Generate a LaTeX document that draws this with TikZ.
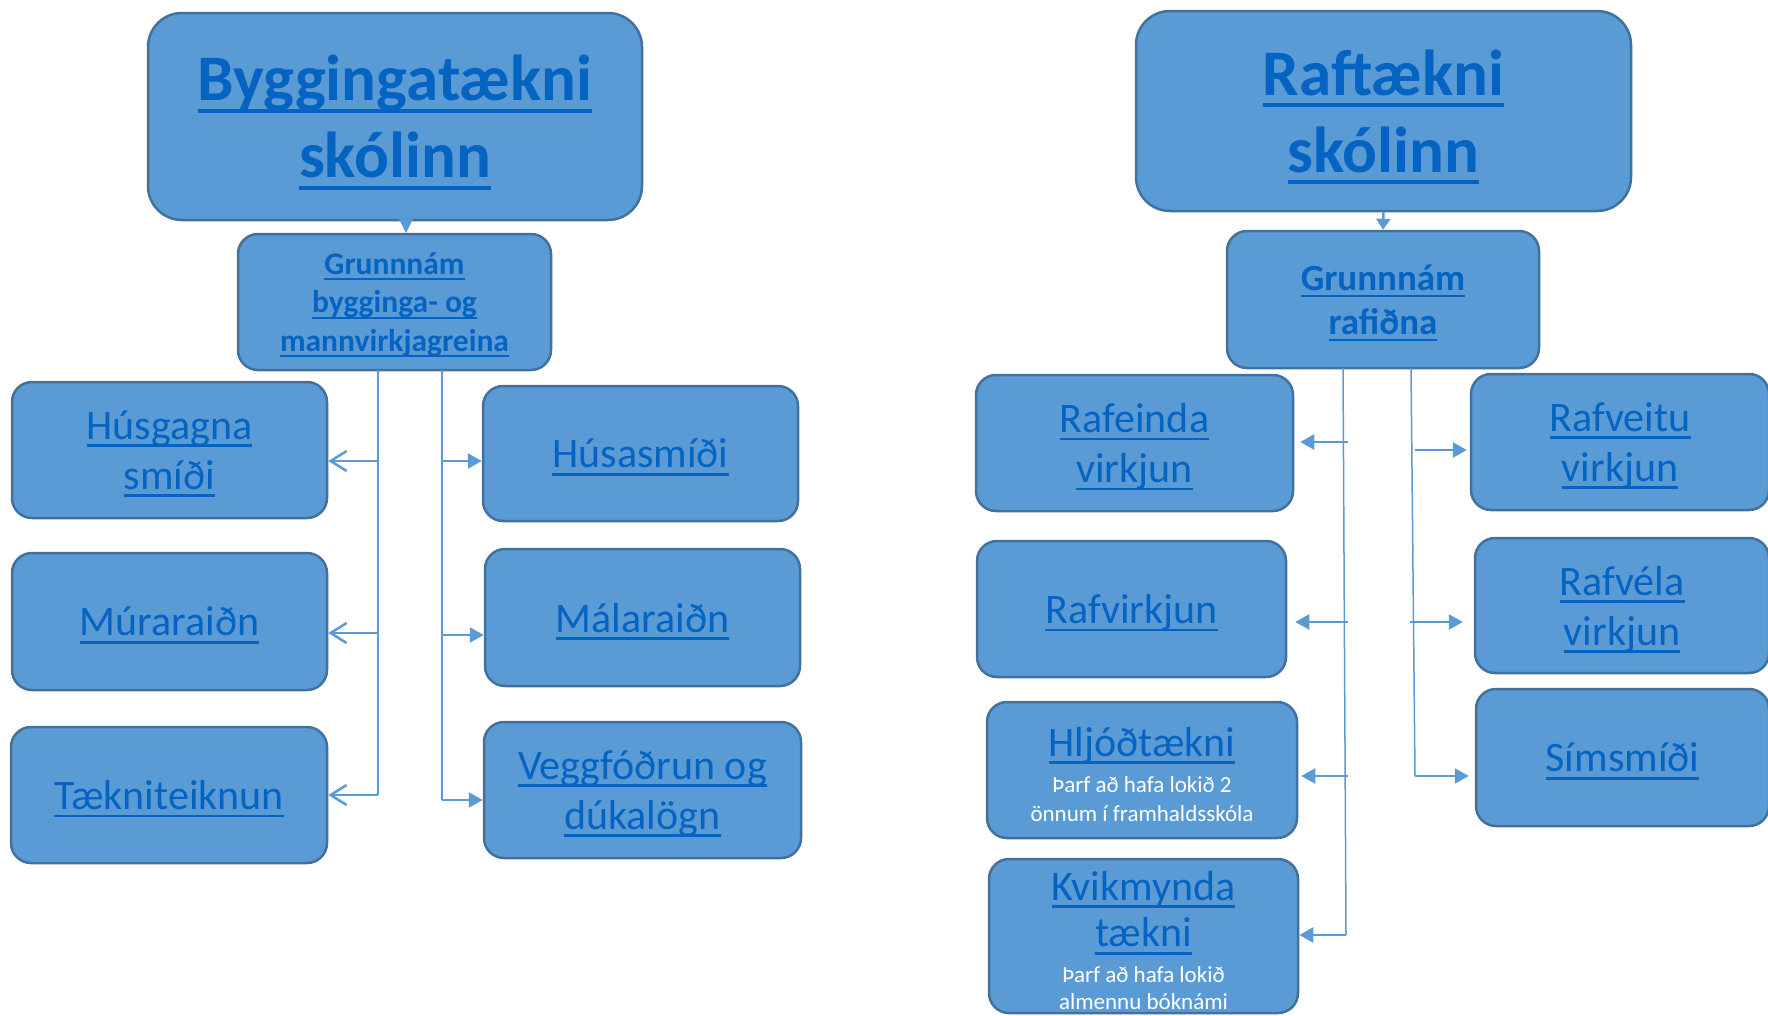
\documentclass[tikz,border=0pt]{standalone}
\usepackage{fontspec}
\setmainfont{Carlito}
\usetikzlibrary{arrows.meta}
\definecolor{boxfill}{HTML}{5B9BD5}
\definecolor{boxline}{HTML}{41719C}
\definecolor{linktext}{HTML}{0563C1}
\definecolor{wirecol}{HTML}{5B9BD5}
\newcommand\linkul[1]{\leavevmode\setbox0\hbox{#1}\rlap{\smash{\vrule width\wd0 height -.12em depth .18em}}\box0}

\begin{document}
\begin{tikzpicture}[x=1pt,y=-1pt,
  box/.style={draw=boxline,line width=2.5pt,fill=boxfill,rounded corners=20pt,align=center,text=linktext,inner sep=0pt,text depth=0pt},
  titlebox/.style={box,rounded corners=34pt,font=\bfseries\fontsize{65}{77}\selectfont},
  leaf/.style={box,font=\fontsize{42}{50}\selectfont},
  note/.style={box,font=\fontsize{23}{29.5}\selectfont},
  wire/.style={draw=wirecol,line width=1.5pt},
  feed/.style={draw=wirecol,line width=2.5pt},
  openhead/.style={feed,-{Straight Barb[length=16pt,width=20pt]}},
  fullhead/.style={feed,-{Triangle[length=14pt,width=15pt]}}]
\fill[white] (0,0) rectangle (1768,1015);
\useasboundingbox (0,0) rectangle (1768,1015);
% Drawing boxes
% Byggingatækni side
\node[titlebox,minimum width=494pt,minimum height=207pt] (bygg) at (395,116.5) {\linkul{Byggingatækni}\\\linkul{skólinn}};
\node[box,font=\bfseries\fontsize{31.5}{38.5}\selectfont,minimum width=313pt,minimum height=136pt] (grunnB) at (394.5,302) {\linkul{Grunnnám}\\\linkul{bygginga- og}\\\linkul{mannvirkjagreina}};
\node[leaf,minimum width=315pt,minimum height=136pt] (husgagna) at (169.5,450) {\linkul{Húsgagna}\\\linkul{smíði}};
\node[leaf,minimum width=315pt,minimum height=137pt] (muraraidn) at (169.5,621.5) {\linkul{Múraraiðn}};
\node[leaf,minimum width=316pt,minimum height=136pt] (taekni) at (169,795) {\linkul{Tækniteiknun}};
\node[leaf,minimum width=315pt,minimum height=135pt] (husasmidi) at (640.5,453.5) {\linkul{Húsasmíði}};
\node[leaf,minimum width=315pt,minimum height=137pt] (malaraidn) at (642.5,617.5) {\linkul{Málaraiðn}};
\node[leaf,minimum width=317pt,minimum height=136pt] (vegg) at (642.5,790) {\linkul{Veggfóðrun og}\\\linkul{dúkalögn}};
% Raftækni side
\node[titlebox,minimum width=495pt,minimum height=200pt] (raf) at (1383.5,111) {\linkul{Raftækni}\\\linkul{skólinn}};
\node[box,font=\bfseries\fontsize{37}{44}\selectfont,minimum width=312pt,minimum height=137pt] (grunnR) at (1383,299.5) {\linkul{Grunnnám}\\\linkul{rafiðna}};
\node[leaf,minimum width=317pt,minimum height=136pt] (rafeinda) at (1134.5,443) {\linkul{Rafeinda}\\\linkul{virkjun}};
\node[leaf,minimum width=309pt,minimum height=136pt] (rafvirkjun) at (1131.5,609) {\linkul{Rafvirkjun}};
\node[note,minimum width=310pt,minimum height=136pt] (hljod) at (1142,770) {{\fontsize{42}{50}\selectfont\rule{0pt}{38pt}\linkul{Hljóðtækni}}\\[6.5pt]{\color{white}Þarf að hafa lokið 2}\\{\color{white}önnum í framhaldsskóla}};
\node[note,minimum width=309pt,minimum height=154pt] (kvik) at (1143.5,936) {{\fontsize{42}{50}\selectfont\rule{0pt}{38pt}\linkul{Kvikmynda}}\\[10pt]{\fontsize{42}{50}\selectfont\linkul{tækni}}\\[6pt]{\color{white}Þarf að hafa lokið}\\[-2pt]{\color{white}almennu bóknámi}};
\node[leaf,minimum width=298pt,minimum height=136pt] (rafveitu) at (1620,442) {\linkul{Rafveitu}\\\linkul{virkjun}};
\node[leaf,minimum width=294pt,minimum height=135pt] (rafvela) at (1622,605.5) {\linkul{Rafvéla}\\\linkul{virkjun}};
\node[leaf,minimum width=293pt,minimum height=137pt] (simsmidi) at (1622.5,757.5) {\linkul{Símsmíði}};
% Done with boxes; drawing wires
\coordinate (bt) at (406,220);
\draw[draw=wirecol,-{Triangle[length=14pt,width=14pt]}] (bt) -- (bt |- grunnB.north);
\draw[feed,-{Triangle[length=11pt,width=14pt]}] (raf.south) -- (grunnR.north);
% left trunk of Byggingatækni
\coordinate (lt0) at (378,370);
\coordinate (lt1) at (378,461);
\coordinate (lt2) at (378,633);
\coordinate (lt3) at (378,795);
\draw[wire] (lt0) -- (lt3);
\draw[openhead] (lt1) -- (lt1 -| husgagna.east);
\draw[openhead] (lt2) -- (lt2 -| muraraidn.east);
\draw[openhead] (lt3) -- (lt3 -| taekni.east);
% right trunk of Byggingatækni
\coordinate (rt0) at (442,370);
\coordinate (rt1) at (442,461);
\coordinate (rt2) at (442,635);
\coordinate (rt3) at (442,800);
\draw[wire] (rt0) -- (rt3);
\draw[fullhead] (rt1) -- (rt1 -| husasmidi.west);
\draw[fullhead] (rt2) -- (rt2 -| malaraidn.west);
\draw[fullhead] (rt3) -- (rt3 -| vegg.west);
% left trunk of Raftækni
\coordinate (el0) at (1343,368);
\coordinate (el1) at (1348,442);
\coordinate (el2) at (1348,622);
\coordinate (el3) at (1348,776);
\coordinate (el4) at (1346,935);
\draw[wire] (el0) -- (el4);
\draw[fullhead,shorten >=6pt] (el1) -- (el1 -| rafeinda.east);
\draw[fullhead,shorten >=8pt] (el2) -- (el2 -| rafvirkjun.east);
\draw[fullhead,shorten >=3pt] (el3) -- (el3 -| hljod.east);
\draw[fullhead] (el4) -- (el4 -| kvik.east);
% right trunk of Raftækni
\coordinate (er0) at (1411,368);
\coordinate (er1) at (1415,450);
\coordinate (er2) at (1410,622);
\coordinate (er3) at (1415,776);
\draw[wire] (er0) -- (er3);
\draw[fullhead,shorten >=3pt] (er1) -- (er1 -| rafveitu.west);
\draw[fullhead,shorten >=11pt] (er2) -- (er2 -| rafvela.west);
\draw[fullhead,shorten >=6pt] (er3) -- (er3 -| simsmidi.west);
% Done with wires
\end{tikzpicture}
\end{document}
